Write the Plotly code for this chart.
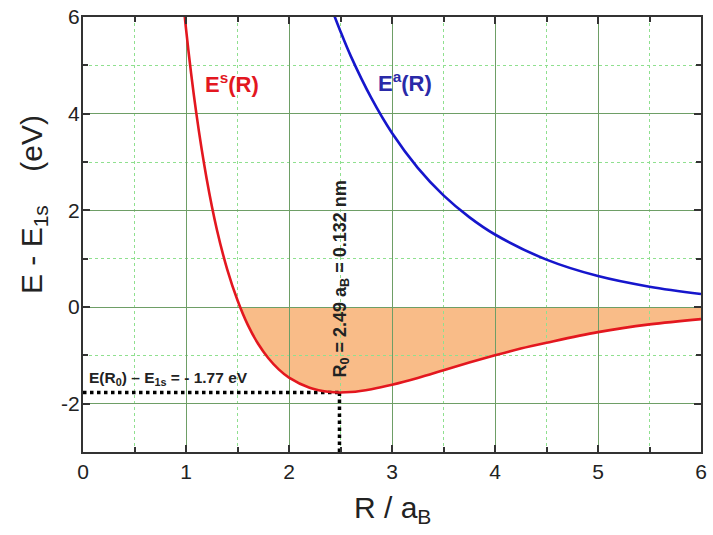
import plotly.graph_objects as go

# ---- data ----
R_s = [0.9, 1.0, 1.1, 1.2, 1.3, 1.4, 1.5, 1.6, 1.7, 1.8, 1.9, 2.0, 2.2, 2.4, 2.49,
       2.6, 2.8, 3.0, 3.25, 3.5, 3.75, 4.0, 4.25, 4.5, 5.0, 5.5, 6.0]
E_s = [8.05, 5.76, 4.01, 2.66, 1.60, 0.78, 0.14, -0.37, -0.76, -1.06, -1.29, -1.46, -1.67, -1.76, -1.77,
       -1.76, -1.70, -1.61, -1.47, -1.31, -1.15, -1.00, -0.86, -0.74, -0.52, -0.36, -0.25]

R_a = [2.2, 2.4, 2.5, 2.6, 2.8, 3.0, 3.25, 3.5, 3.75, 4.0, 4.5, 5.0, 5.5, 6.0]
E_a = [7.58, 6.26, 5.70, 5.19, 4.32, 3.60, 2.88, 2.31, 1.86, 1.50, 0.98, 0.64, 0.42, 0.27]

R_cross = 1.53          # where E^s(R) crosses zero
R0 = 2.49               # equilibrium distance (a_B)
E0 = -1.77              # minimum energy (eV)

x_tickvals = [0, 1, 2, 3, 4, 5, 6]
x_ticktext = ["0", "1", "2", "3", "4", "5", "6"]
y_tickvals = [-2, 0, 2, 4, 6]
y_ticktext = ["-2", "0", "2", "4", "6"]
x_range = [0, 6]
y_range = [-3, 6]

RED = "#E3171F"
BLUE = "#1616CC"
FILL = "#F9BC88"
MAJOR_GRID = "#6E9E66"
MINOR_GRID = "#8FE08F"
FONT = "Liberation Sans, Arial, sans-serif"

fig = go.Figure()

# bound region (below grid lines), built from the E^s data
neg = [(r, e) for r, e in zip(R_s, E_s) if r > R_cross]
path = f"M {R_cross},0 " + " ".join(f"L {r},{e}" for r, e in neg) + f" L {neg[-1][0]},0 Z"
fig.add_shape(type="path", path=path, xref="x", yref="y", layer="below",
              fillcolor=FILL, line=dict(width=0))

# dotted guides
fig.add_trace(go.Scatter(x=[x_range[0], R0], y=[E0, E0], mode="lines",
                         line=dict(color="black", width=3.5, dash="dot"), showlegend=False))
fig.add_trace(go.Scatter(x=[R0, R0], y=[E0, y_range[0]], mode="lines",
                         line=dict(color="black", width=3.5, dash="dot"), showlegend=False))

fig.add_trace(go.Scatter(x=R_s, y=E_s, mode="lines", line=dict(color=RED, width=2.6, shape="spline"),
                         showlegend=False))
fig.add_trace(go.Scatter(x=R_a, y=E_a, mode="lines", line=dict(color=BLUE, width=2.6, shape="spline"),
                         showlegend=False))

axis_common = dict(
    showline=True, linecolor="#333333", linewidth=2, mirror="allticks",
    ticks="inside", ticklen=7, tickwidth=1.5, tickcolor="#333333",
    showgrid=True, gridcolor=MAJOR_GRID, gridwidth=1, zeroline=False,
    tickfont=dict(family=FONT, size=21, color="#222222"),
    automargin=False, ticklabeloverflow="allow",
)

fig.update_xaxes(range=x_range, tickmode="array", tickvals=x_tickvals, ticktext=x_ticktext,
                 minor=dict(dtick=0.5, tick0=0, ticks="inside", ticklen=5, tickcolor="#333333",
                            showgrid=True, gridcolor=MINOR_GRID, griddash="dot", gridwidth=1),
                 **axis_common)
fig.update_yaxes(range=y_range, tickmode="array", tickvals=y_tickvals, ticktext=y_ticktext,
                 ticklabelstandoff=-3,
                 minor=dict(dtick=1, tick0=0, ticks="inside", ticklen=5, tickcolor="#333333",
                            showgrid=True, gridcolor=MINOR_GRID, griddash="dot", gridwidth=1),
                 **axis_common)

ann = [
    dict(x=1.45, y=4.64, xref="x", yref="y", text="<b>E<sup>s</sup>(R)</b>", showarrow=False,
         font=dict(family=FONT, size=22, color=RED)),
    dict(x=3.13, y=4.66, xref="x", yref="y", text="<b>E<sup>a</sup>(R)</b>", showarrow=False,
         font=dict(family=FONT, size=22, color="#2A2AA8")),
    dict(x=0.04, y=-1.47, xref="x", yref="y", xanchor="left",
         text="<b>E(R<sub>0</sub>) – E<sub>1s</sub> = - 1.77 eV</b>", showarrow=False,
         font=dict(family=FONT, size=15.5, color="#222222")),
    dict(x=2.51, y=0.58, xref="x", yref="y", textangle=-90,
         text="<b>R<sub>0</sub> = 2.49 a<sub>B</sub> = 0.132 nm</b>", showarrow=False,
         font=dict(family=FONT, size=18, color="#222222")),
    dict(x=-0.081, y=0.57, xref="paper", yref="paper", textangle=-90,
         xanchor="center", yanchor="middle",
         text="E - E<sub>1s</sub>\u00a0\u00a0\u00a0\u00a0(eV)", showarrow=False,
         font=dict(family=FONT, size=30, color="#222222")),
    dict(x=0.5, y=-0.133, xref="paper", yref="paper", xanchor="center", yanchor="middle",
         text="R / a<sub>B</sub>", showarrow=False,
         font=dict(family=FONT, size=30, color="#222222")),
]
fig.update_layout(
    width=713, height=535, autosize=False,
    margin=dict(l=83, r=12, t=17, b=83),
    paper_bgcolor="white", plot_bgcolor="white",
    annotations=ann, showlegend=False,
)

fig.write_html("out.html", config={"displayModeBar": False},
               post_script="document.body.style.margin='0';")
